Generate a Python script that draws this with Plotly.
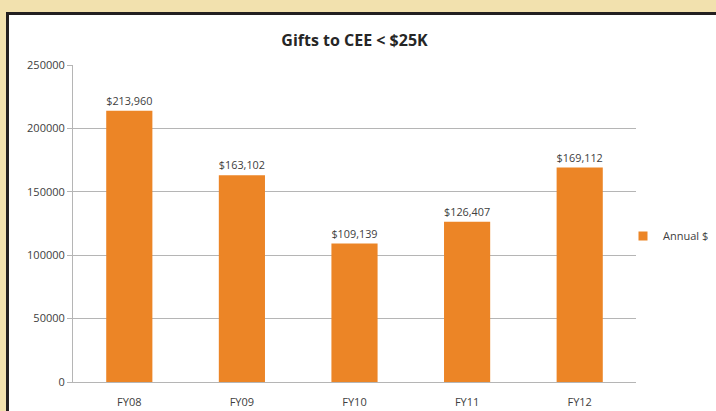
import plotly.graph_objects as go

categories = ["FY08", "FY09", "FY10", "FY11", "FY12"]
annual = [213960, 163102, 109139, 126407, 169112]
y_ticks = [0, 50000, 100000, 150000, 200000, 250000]

L, R, T, B = 73, 80, 65, 29
W, H = 716, 411
pw, ph = W - L - R, H - T - B

def px_x(x):
    return (x - L) / pw

def px_y(y):
    return (H - B - y) / ph

fig = go.Figure()
fig.add_trace(go.Bar(
    x=categories, y=annual, name="Annual $", showlegend=False,
    marker=dict(color="#ec8526", line=dict(width=0)),
    texttemplate="$%{y:,}", textposition="outside",
    textfont=dict(size=11, color="#404040"),
    cliponaxis=False, width=0.41,
))
# legend entry with a small square swatch
fig.add_trace(go.Scatter(
    x=[None], y=[None], mode="markers", name="Annual $",
    marker=dict(symbol="square", size=9, color="#ec8526"),
))

fig.add_shape(type="rect", xref="paper", yref="paper",
              x0=px_x(7.5), y0=px_y(450), x1=px_x(760), y1=px_y(13.5),
              line=dict(color="#231f20", width=3), fillcolor="white", layer="below")

fig.update_layout(
    width=W, height=H,
    margin=dict(l=L, r=R, t=T, b=B, autoexpand=False),
    paper_bgcolor="#f2e1ae",
    plot_bgcolor="white",
    font=dict(family="Open Sans, DejaVu Sans, sans-serif", size=11, color="#404040"),
    title=dict(text="<b>Gifts to CEE < $25K</b>", x=0.5, xref="paper",
               y=1 - 40 / H, yref="container", yanchor="middle",
               font=dict(size=16, color="#262626")),
    showlegend=True,
    legend=dict(x=(623) / W, xref="container", y=1 - 236 / H, yref="container",
                xanchor="left", yanchor="middle", itemwidth=30,
                bgcolor="rgba(0,0,0,0)", font=dict(size=11, color="#404040")),
    bargap=0.59,
)
fig.update_yaxes(range=[0, 250000], tickvals=y_ticks, ticktext=[str(v) for v in y_ticks],
                 showgrid=True, gridcolor="#b5b5b5", gridwidth=1,
                 showline=True, linecolor="#b5b5b5", linewidth=1,
                 ticks="outside", ticklen=5, tickcolor="#b5b5b5",
                 zeroline=False, tickfont=dict(size=11, color="#404040"))
fig.update_xaxes(showline=True, linecolor="#b5b5b5", linewidth=1, ticks="",
                 ticklabelstandoff=10,
                 tickfont=dict(size=11, color="#404040"))

fig.write_html("out.html", config={"displayModeBar": False},
               post_script="document.body.style.margin='0';")
